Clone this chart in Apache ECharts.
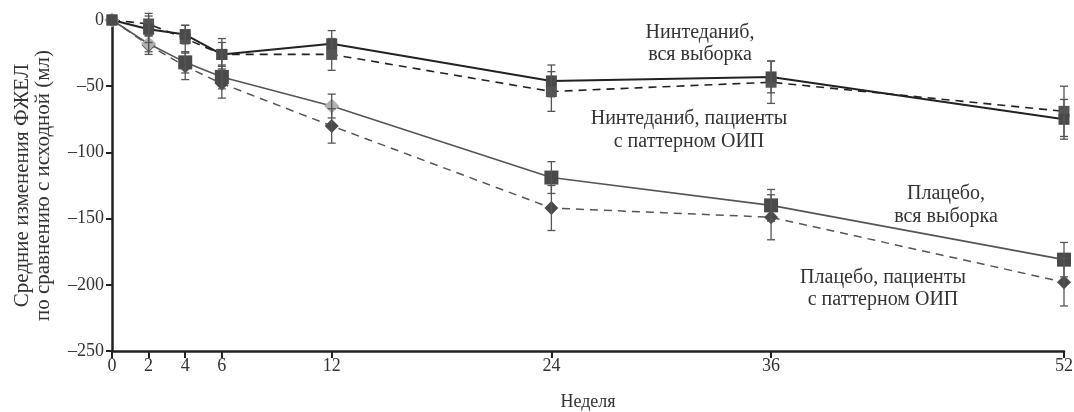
<!DOCTYPE html>
<html><head><meta charset="utf-8">
<script src="https://cdn.jsdelivr.net/npm/echarts@6/dist/echarts.min.js"></script>
<style>html,body{margin:0;padding:0;background:#fff}#c{width:1074px;height:412px}</style>
</head><body><div id="c"></div>
<script>
const weeks = [0, 2, 4, 6, 12, 24, 36, 52];
const xTicks = [0, 2, 4, 6, 12, 24, 36, 52];
const ninFull = [0, -7, -11, -26, -18, -46, -43, -75];
const ninFullErr = [0, 10, 7, 9, 10, 12, 12, 15];
const ninUip = [0, -3, -14, -26, -26, -54, -47, -69];
const ninUipErr = [0, 8, 10, 12, 12, 15, 16, 19];
const plaFull = [0, -18, -32, -43, -65, -119, -140, -181];
const plaFullErr = [0, 6, 8, 9, 9, 12, 12, 13];
const plaUip = [0, -19, -35, -48, -80, -142, -149, -198];
const plaUipErr = [0, 7, 10, 11, 13, 17, 17, 18];
const lightDiamondWeeks = [0, 2, 12];
const labels = {
  ninFull: 'Нинтеданиб,\nвся выборка',
  ninUip: 'Нинтеданиб, пациенты\nс паттерном ОИП',
  plaFull: 'Плацебо,\nвся выборка',
  plaUip: 'Плацебо, пациенты\nс паттерном ОИП'
};
const yName = 'Средние изменения ФЖЕЛ\nпо сравнению с исходной (мл)';
const xName = 'Неделя';

const FONT = '"Liberation Serif", "DejaVu Serif", serif';

function pts(vals) { return weeks.map((w, i) => [w, vals[i]]); }
function errData(vals, errs) {
  return weeks.map((w, i) => [w, vals[i] - errs[i], vals[i] + errs[i]]).filter((d, i) => errs[i] > 0);
}
function errSeries(vals, errs, color) {
  return {
    type: 'custom', z: 3, silent: true,
    data: errData(vals, errs),
    renderItem: function (params, api) {
      const x = api.value(0);
      const lo = api.coord([x, api.value(1)]);
      const hi = api.coord([x, api.value(2)]);
      const cw = 4;
      const st = { stroke: color, lineWidth: 1.3 };
      return { type: 'group', children: [
        { type: 'line', shape: { x1: lo[0], y1: lo[1], x2: hi[0], y2: hi[1] }, style: st },
        { type: 'line', shape: { x1: lo[0] - cw, y1: lo[1], x2: lo[0] + cw, y2: lo[1] }, style: st },
        { type: 'line', shape: { x1: hi[0] - cw, y1: hi[1], x2: hi[0] + cw, y2: hi[1] }, style: st }
      ]};
    }
  };
}

const plaFullData = weeks.map((w, i) => {
  const light = lightDiamondWeeks.indexOf(w) >= 0;
  return {
    value: [w, plaFull[i]],
    symbol: light ? 'diamond' : 'rect',
    symbolSize: light ? 15 : 14,
    itemStyle: { color: light ? '#b0b0b0' : '#4a4a4a' }
  };
});

function note(text, x, y, lh) {
  return { type: 'text', x: x, y: y, z: 10,
    style: { text: text, fontFamily: FONT, fontSize: 20, lineHeight: lh, fill: '#333',
      align: 'center', verticalAlign: 'middle' } };
}

const chart = echarts.init(document.getElementById('c'), null, { renderer: 'canvas' });
chart.setOption({
  animation: false,
  grid: { left: 112, right: 10, top: 20, bottom: 61, containLabel: false, outerBoundsMode: 'none' },
  xAxis: {
    type: 'value', min: 0, max: 52,
    name: xName, nameLocation: 'middle', nameGap: 42,
    nameTextStyle: { fontFamily: FONT, fontSize: 18, color: '#333' },
    axisLine: { onZero: false, lineStyle: { color: '#222', width: 2.5 } },
    axisTick: { customValues: xTicks, length: 7, lineStyle: { color: '#222', width: 2 } },
    axisLabel: { customValues: xTicks, fontFamily: FONT, fontSize: 18, color: '#333', margin: 6 },
    splitLine: { show: false }
  },
  yAxis: {
    type: 'value', min: -250, max: 0, interval: 50,
    name: yName, nameLocation: 'middle', nameGap: 58, nameRotate: 90,
    nameTextStyle: { fontFamily: FONT, fontSize: 21, color: '#333', lineHeight: 21 },
    axisLine: { lineStyle: { color: '#222', width: 2.5 } },
    axisTick: { length: 6, lineStyle: { color: '#222', width: 2 } },
    axisLabel: { fontFamily: FONT, fontSize: 18, color: '#333', margin: 8,
      formatter: v => v < 0 ? '\u2013' + Math.abs(v) : String(v) },
    splitLine: { show: false }
  },
  series: [
    { type: 'line', data: pts(plaUip), z: 2, symbol: 'diamond', symbolSize: 14,
      lineStyle: { color: '#555', width: 1.5, type: [8, 6] }, itemStyle: { color: '#4a4a4a' } },
    { type: 'line', data: plaFullData, z: 2,
      lineStyle: { color: '#555', width: 1.6 }, itemStyle: { color: '#4a4a4a' } },
    { type: 'line', data: pts(ninUip), z: 2, symbol: 'rect', symbolSize: 11,
      lineStyle: { color: '#222', width: 1.6, type: [8, 6] }, itemStyle: { color: '#555' } },
    { type: 'line', data: pts(ninFull), z: 2, symbol: 'rect', symbolSize: 11,
      lineStyle: { color: '#222', width: 2 }, itemStyle: { color: '#4a4a4a' } },
    errSeries(plaUip, plaUipErr, '#555'),
    errSeries(plaFull, plaFullErr, '#555'),
    errSeries(ninUip, ninUipErr, '#555'),
    errSeries(ninFull, ninFullErr, '#555')
  ],
  graphic: [
    note(labels.ninFull, 700, 44, 22),
    note(labels.ninUip, 689, 130, 23),
    note(labels.plaFull, 946, 205, 23),
    note(labels.plaUip, 883, 289, 22)
  ]
});
</script></body></html>
